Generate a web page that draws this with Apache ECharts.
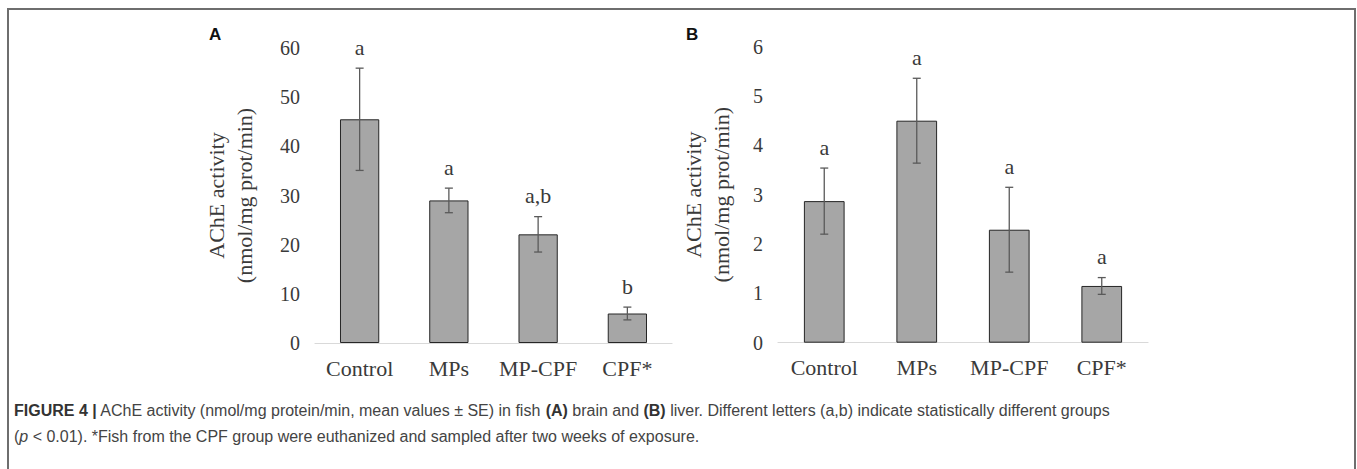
<!DOCTYPE html>
<html>
<head>
<meta charset="utf-8">
<script src="https://cdn.jsdelivr.net/npm/echarts@6/dist/echarts.min.js"></script>
<style>
html,body{margin:0;padding:0;background:#fff;}
#c{width:1357px;height:469px;}
</style>
</head>
<body>
<div id="c"></div>
<script>
// ---- data ----
var categories = ['Control', 'MPs', 'MP-CPF', 'CPF*'];
var brainMean = [45.5, 29.0, 22.1, 6.0];
var brainSE = [10.4, 2.5, 3.6, 1.3];
var brainLetters = ['a', 'a', 'a,b', 'b'];
var liverMean = [2.87, 4.50, 2.29, 1.15];
var liverSE = [0.67, 0.86, 0.86, 0.17];
var liverLetters = ['a', 'a', 'a', 'a'];
var yNameLines = ['AChE activity', '(nmol/mg prot/min)'];
var panelLabels = ['A', 'B'];
var captionBold = 'FIGURE 4 |';
var captionLine1 = ' AChE activity (nmol/mg protein/min, mean values \u00B1 SE) in fish ';
var captionLine1b = ' brain and ';
var captionLine1c = ' liver. Different letters (a,b) indicate statistically different groups';
var captionLine2a = '(';
var captionLine2p = 'p';
var captionLine2b = ' < 0.01). *Fish from the CPF group were euthanized and sampled after two weeks of exposure.';

var SERIF = '"Liberation Serif","Times New Roman",serif';
var SANS = '"Liberation Sans",Arial,sans-serif';
var TXT = '#3a3a3a';

function errData(mean, se) {
  return mean.map(function (m, i) { return [i, m, se[i]]; });
}
function makeErr(letters) {
  return function (params, api) {
    var i = api.value(0), m = api.value(1), se = api.value(2);
    var hi = api.coord([i, m + se]);
    var lo = api.coord([i, m - se]);
    var hw = 4;
    var st = { stroke: '#5a5a5a', lineWidth: 1.3 };
    return {
      type: 'group',
      children: [
        { type: 'line', shape: { x1: hi[0], y1: hi[1], x2: lo[0], y2: lo[1] }, style: st },
        { type: 'line', shape: { x1: hi[0] - hw, y1: hi[1], x2: hi[0] + hw, y2: hi[1] }, style: st },
        { type: 'line', shape: { x1: lo[0] - hw, y1: lo[1], x2: lo[0] + hw, y2: lo[1] }, style: st },
        { type: 'text', x: hi[0], y: hi[1] - 10,
          style: { text: letters[params.dataIndex], fill: TXT, font: '22px ' + SERIF, textAlign: 'center', textVerticalAlign: 'bottom' } }
      ]
    };
  };
}

var chart = echarts.init(document.getElementById('c'), null, { renderer: 'svg' });

function xAxis(idx) {
  return {
    type: 'category', gridIndex: idx, data: categories,
    axisLine: { lineStyle: { color: '#d9d9d9', width: 1.2 } },
    axisTick: { show: false },
    axisLabel: { color: TXT, fontFamily: SERIF, fontSize: 22, margin: 14, interval: 0 }
  };
}
function yAxis(idx, max, interval, gap) {
  return {
    type: 'value', gridIndex: idx, min: 0, max: max, interval: interval,
    axisLine: { show: false }, axisTick: { show: false }, splitLine: { show: false },
    axisLabel: { color: TXT, fontFamily: SERIF, fontSize: 20, margin: 15 },
    name: yNameLines.join('\n'), nameLocation: 'middle', nameGap: gap, nameRotate: 90,
    nameTextStyle: { color: TXT, fontFamily: SERIF, fontSize: 22, lineHeight: 28 }
  };
}

chart.setOption({
  animation: false,
  grid: [
    { left: 315, top: 48, width: 357, height: 295 },
    { left: 778, top: 46.7, width: 370, height: 296 }
  ],
  xAxis: [xAxis(0), xAxis(1)],
  yAxis: [yAxis(0, 60, 10, 57), yAxis(1, 6, 1, 43)],
  series: [
    { type: 'bar', xAxisIndex: 0, yAxisIndex: 0, data: brainMean, barWidth: '44%',
      itemStyle: { color: '#a6a6a6', borderColor: '#262626', borderWidth: 1 } },
    { type: 'custom', xAxisIndex: 0, yAxisIndex: 0, data: errData(brainMean, brainSE), renderItem: makeErr(brainLetters), z: 5 },
    { type: 'bar', xAxisIndex: 1, yAxisIndex: 1, data: liverMean, barWidth: '44%',
      itemStyle: { color: '#a6a6a6', borderColor: '#262626', borderWidth: 1 } },
    { type: 'custom', xAxisIndex: 1, yAxisIndex: 1, data: errData(liverMean, liverSE), renderItem: makeErr(liverLetters), z: 5 }
  ],
  graphic: [
    { type: 'polyline', shape: { points: [[8, 469], [8, 9], [1355, 9], [1355, 469]] },
      style: { stroke: '#6e6e6e', lineWidth: 2, fill: null } },
    { type: 'text', left: 209, top: 26, style: { text: panelLabels[0], font: 'bold 17px ' + SANS, fill: '#111' } },
    { type: 'text', left: 686, top: 26, style: { text: panelLabels[1], font: 'bold 17px ' + SANS, fill: '#111' } },
    { type: 'text', left: 14, top: 402,
      style: {
        text: '{b|' + captionBold + '}{n|' + captionLine1 + '}{b|(A)}{n|' + captionLine1b + '}{b|(B)}{n|' + captionLine1c + '}',
        rich: {
          b: { font: 'bold 16px ' + SANS, fill: '#333' },
          n: { font: '16px ' + SANS, fill: '#444' }
        }
      } },
    { type: 'text', left: 14, top: 428,
      style: {
        text: '{n|' + captionLine2a + '}{i|' + captionLine2p + '}{n|' + captionLine2b + '}',
        rich: {
          i: { font: 'italic 16px ' + SANS, fill: '#444' },
          n: { font: '16px ' + SANS, fill: '#444' }
        }
      } }
  ]
});
</script>
</body>
</html>
